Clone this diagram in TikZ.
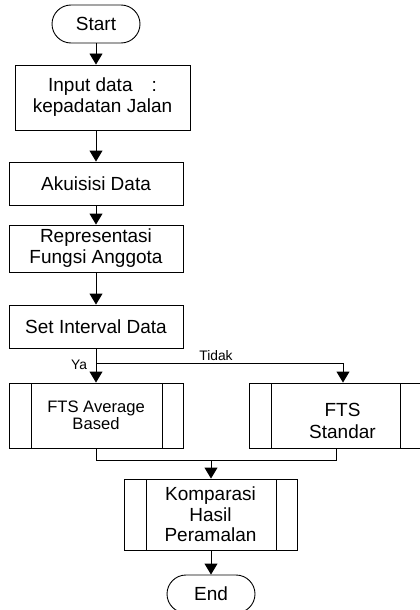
\documentclass[tikz,border=0pt]{standalone}
\usepackage{fontspec}
\setmainfont{Liberation Sans}
\usetikzlibrary{arrows.meta}
\begin{document}
\begin{tikzpicture}[x=1pt,y=-1pt,
  line width=0.9pt,
  big/.style={font=\fontsize{19}{21}\selectfont},
  mid/.style={font=\fontsize{16.6}{16.5}\selectfont},
  small/.style={font=\fontsize{13.8}{15}\selectfont, inner sep=0pt},
  term/.style={draw, rounded corners=19pt, minimum width=88pt, minimum height=38pt, inner sep=0pt, big},
  box/.style={draw, inner sep=0pt, align=center, big},
  subproc/.style={draw, inner sep=0pt, align=center,
    path picture={
      \draw ([xshift=22pt]path picture bounding box.north west) -- ([xshift=22pt]path picture bounding box.south west);
      \draw ([xshift=-21pt]path picture bounding box.north east) -- ([xshift=-21pt]path picture bounding box.south east);
    }},
  txt/.style={inner sep=0pt, align=center},
  arr/.style={-{Triangle[width=13pt,length=11pt]}},
  ln/.style={-}
]
\useasboundingbox (0,0) rectangle (420,610);

\node[term] (start) at (96,24) {Start};
\node[box, minimum width=175pt, minimum height=65pt] (input) at (102.5,97.5) {Input data\hspace{19pt}:\\kepadatan Jalan};
\node[box, minimum width=174pt, minimum height=43pt] (akuisisi) at (96,183.5) {Akuisisi Data};
\node[box, minimum width=174pt, minimum height=47pt] (repr) at (96,248.5) {Representasi\\Fungsi Anggota};
\node[box, minimum width=174pt, minimum height=43pt] (setint) at (96,326.5) {Set Interval Data};
\node[subproc, mid, minimum width=174pt, minimum height=65pt] (ftsavg) at (96,415.5) {FTS Average\\Based};
\node[subproc, minimum width=172pt, minimum height=65pt] (ftsstd) at (335,415.5) {};
\node[txt, font=\fontsize{19}{22}\selectfont] (ftsstdtxt) at (342.5,421) {FTS\\Standar};
\node[subproc, font=\fontsize{19}{20.5}\selectfont, minimum width=173pt, minimum height=71pt] (komp) at (210.5,514.5) {Komparasi\\Hasil\\Peramalan};
\node[term] (end) at (211,594) {End};

\coordinate (split) at (96,363);
\coordinate (tidakc) at (343,363);
\coordinate (mergeL) at (96,460);
\coordinate (mergeR) at (336,460);
\coordinate (mergeC) at (211,460);

\draw[arr] (start.south) -- (input.north -| start.south);
\draw[arr] (input.south -| akuisisi.north) -- (akuisisi.north);
\draw[arr] (akuisisi.south) -- (repr.north);
\draw[arr] (repr.south) -- (setint.north);
\draw[arr] (setint.south) -- (ftsavg.north);
\draw[arr] (split) -- (tidakc) -- (tidakc |- ftsstd.north);
\draw[ln] (ftsavg.south) -- (mergeL) -- (mergeR) -- (mergeR |- ftsstd.south);
\draw[arr] (mergeC) -- (komp.north -| mergeC);
\draw[arr] (komp.south -| end.north) -- (end.north);

\node[small, anchor=base] (ya) at (79,369) {Ya};
\node[small, anchor=base] (tidak) at (216,360) {Tidak};
\end{tikzpicture}
\end{document}
